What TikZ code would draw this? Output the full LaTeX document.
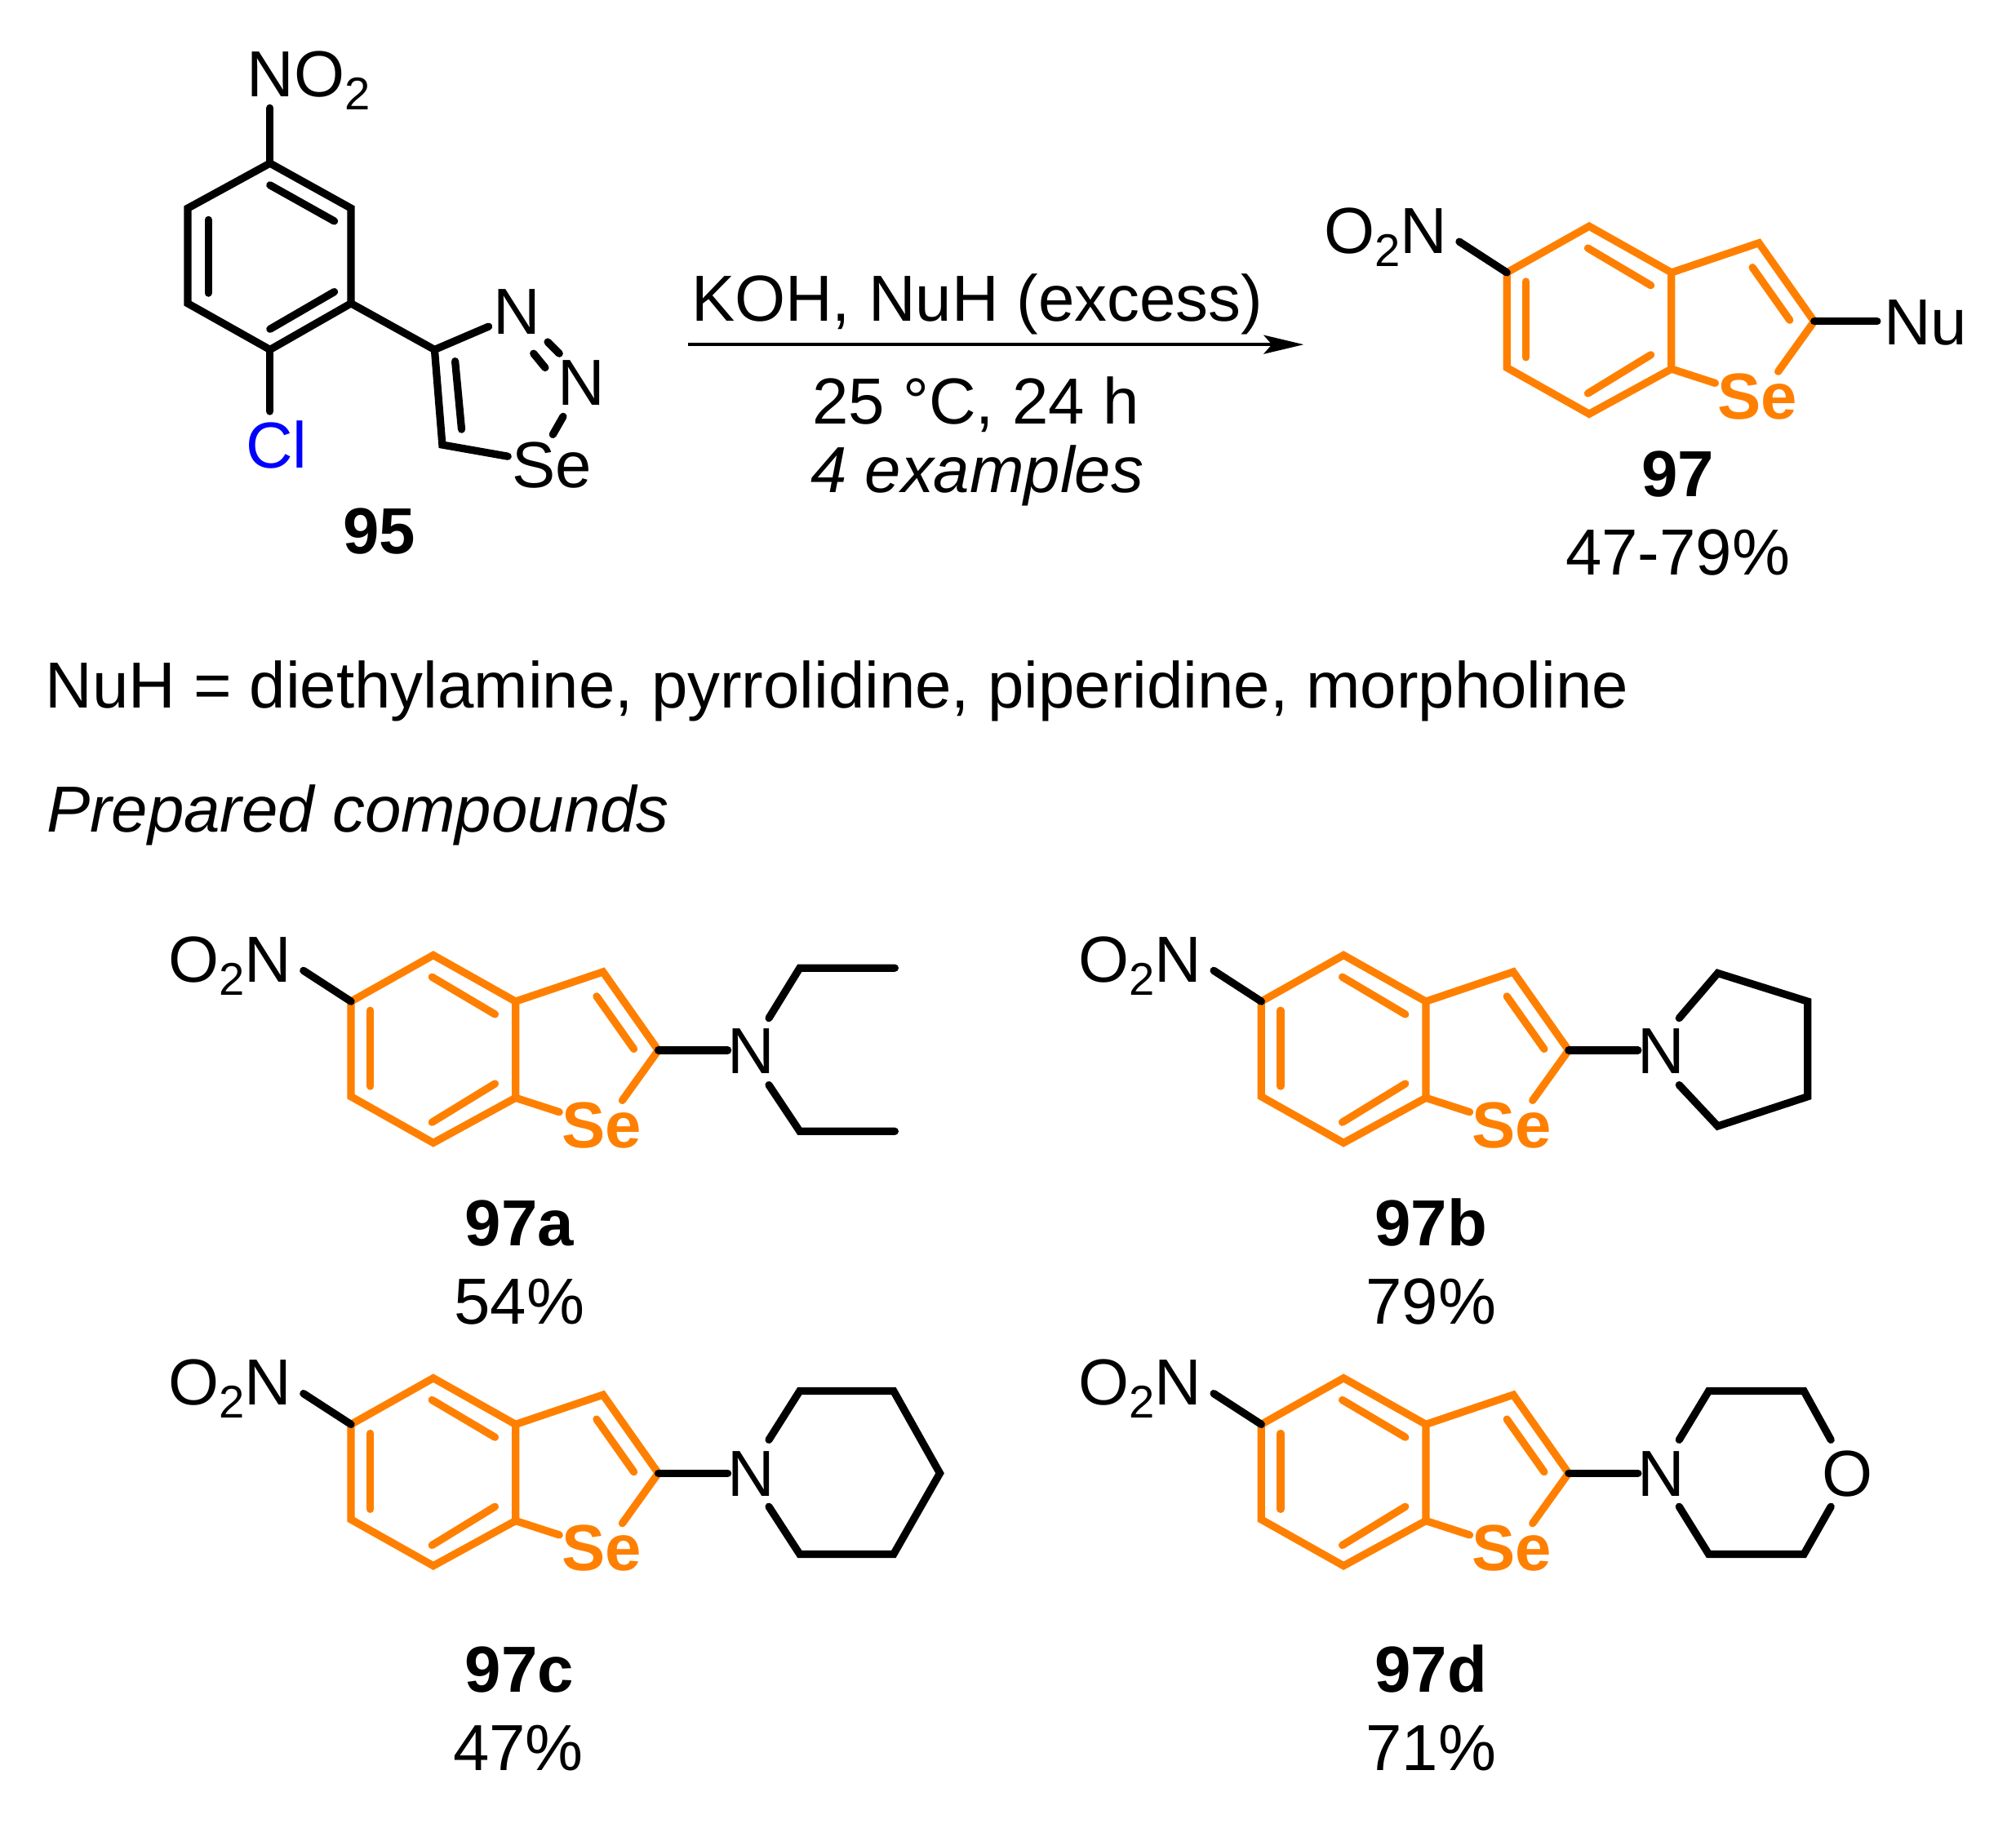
\documentclass[tikz,border=0pt]{standalone}
\usepackage{fontspec}
\setmainfont{Liberation Sans}
\usetikzlibrary{arrows.meta}
\definecolor{seorange}{HTML}{FF8000}
\definecolor{clblue}{HTML}{0000FF}
\newcommand{\fsz}{\fontsize{45.4}{54}\selectfont}
\newcommand{\sbx}[1]{\raisebox{-0.2em}{\fontsize{32}{36}\selectfont #1}}
\tikzset{
  bond/.style={line width=0.185cm,line cap=round,line join=miter,black},
  obond/.style={bond,seorange},
  atom/.style={inner sep=0pt,anchor=base,font=\fsz,black},
  oatom/.style={atom,seorange,font=\fsz\bfseries},
  lbl/.style={inner sep=0pt,anchor=base,font=\fsz,black},
  blbl/.style={lbl,font=\fsz\bfseries},
  itlbl/.style={lbl,font=\fsz\itshape},
  rxn/.style={line width=0.085cm,-{Stealth[length=0.98cm,width=0.46cm,inset=0.2cm]}}
}
% benzoselenophene with NO2: prefix, dx, dy
\newcommand{\scaffold}[3]{%
\begin{scope}[shift={(#2,#3)}]
  \coordinate (#1ul) at (1172,212);
  \coordinate (#1top) at (1236,176);
  \coordinate (#1ju) at (1300,212);
  \coordinate (#1jl) at (1300,287);
  \coordinate (#1bot) at (1236,322);
  \coordinate (#1ll) at (1172,286);
  \coordinate (#1cc) at (1368,189);
  \coordinate (#1cb) at (1411,250);
  \coordinate (#1sa) at (1334,298);
  \coordinate (#1sb) at (1383,289);
  \coordinate (#1ia) at (1235,193);
  \coordinate (#1ib) at (1284,222);
  \coordinate (#1ic) at (1187,219);
  \coordinate (#1id) at (1187,278);
  \coordinate (#1ie) at (1235,306);
  \coordinate (#1if) at (1284,276);
  \coordinate (#1ig) at (1363,208);
  \coordinate (#1ih) at (1392,249);
  \coordinate (#1ne) at (1135,188);
  \node[atom,anchor=base east] (#1no) at (1126,197) {O\sbx{2}N};
  \node[oatom] (#1se) at (1367,326) {Se};
  \draw[obond] (#1ul) -- (#1top) -- (#1ju) -- (#1jl) -- (#1bot) -- (#1ll) -- cycle;
  \draw[obond] (#1ju) -- (#1cc) -- (#1cb) -- (#1sb);
  \draw[obond] (#1jl) -- (#1sa);
  \draw[obond] (#1ia) -- (#1ib);
  \draw[obond] (#1ic) -- (#1id);
  \draw[obond] (#1ie) -- (#1if);
  \draw[obond] (#1ig) -- (#1ih);
  \draw[bond] (#1ne) -- (#1ul);
\end{scope}}
\begin{document}
\begin{tikzpicture}[x=0.031505cm,y=-0.031505cm]
\useasboundingbox (0,0) rectangle (1568,1421.4);
% compound 95
\coordinate (r1) at (210,127);
\coordinate (r2) at (273,162);
\coordinate (r3) at (273,236);
\coordinate (r4) at (210,272);
\coordinate (r5) at (146,236);
\coordinate (r6) at (146,162);
\coordinate (c4) at (338,272);
\coordinate (c5) at (344,346);
\coordinate (no2e) at (210,84);
\coordinate (cle) at (210,320);
\coordinate (n3e) at (380,254);
\coordinate (see) at (395,355);
\coordinate (see2) at (430,338);
\coordinate (n2e) at (438,324);
\coordinate (ia) at (210,144);
\coordinate (ib) at (260,172);
\coordinate (ic) at (162,171);
\coordinate (id) at (162,228);
\coordinate (ie) at (210,256);
\coordinate (if) at (260,227);
\coordinate (ig) at (354,281);
\coordinate (ih) at (359,334);
\coordinate (da) at (415,275);
\coordinate (db) at (424,286);
\coordinate (dc) at (426,266);
\coordinate (dd) at (435,275);
\draw[bond] (r1) -- (r2) -- (r3) -- (r4) -- (r5) -- (r6) -- cycle;
\draw[bond] (ia) -- (ib);
\draw[bond] (ic) -- (id);
\draw[bond] (ie) -- (if);
\draw[bond] (r1) -- (no2e);
\draw[bond] (r4) -- (cle);
\draw[bond] (r3) -- (c4);
\draw[bond] (n3e) -- (c4) -- (c5) -- (see);
\draw[bond] (ig) -- (ih);
\draw[bond] (n2e) -- (see2);
\draw[bond] (da) -- (db);
\draw[bond] (dc) -- (dd);
\node[atom,anchor=base west] (no2) at (192,75) {NO\sbx{2}};
\node[atom,text=clblue] (cl) at (215,364) {Cl};
\node[atom] (n3) at (402,260) {N};
\node[atom] (n2) at (452,315) {N};
\node[atom] (se) at (429,379) {Se};
\node[blbl] (l95) at (295,431) {95};
% reaction
\coordinate (arrs) at (535,268);
\coordinate (arre) at (1014,268);
\draw[rxn] (arrs) -- (arre);
\node[lbl] (kk) at (760,250) {KOH, NuH (excess)};
\node[lbl] (tt) at (759,330) {25 °C, 24 h};
\node[itlbl] (ex) at (760,383) {4 examples};
% product 97
\scaffold{p}{0}{0}
\coordinate (pnu) at (1460,250);
\draw[bond] (pcb) -- (pnu);
\node[atom,anchor=base west] (nu) at (1465,268) {Nu};
\node[blbl] (l97) at (1305,386) {97};
\node[lbl] (y97) at (1305,447) {47-79\%};
% text lines
\node[lbl,anchor=base west] (nuh) at (35,550.5) {NuH = diethylamine, pyrrolidine, piperidine, morpholine};
\node[itlbl,anchor=base west] (prep) at (36,647) {Prepared compounds};
% 97a
\scaffold{a}{-899}{567}
\node[atom] (an) at (584,835) {N};
\coordinate (anb) at (566,817);
\coordinate (au) at (598,792);
\coordinate (au1) at (622,753);
\coordinate (au2) at (696,753);
\coordinate (ad) at (598,844);
\coordinate (ad1) at (622,880);
\coordinate (ad2) at (696,880);
\draw[bond] (acb) -- (anb);
\draw[bond] (au) -- (au1) -- (au2);
\draw[bond] (ad) -- (ad1) -- (ad2);
\node[blbl] (la) at (404,969) {97a};
\node[lbl] (ya) at (404,1030) {54\%};
% 97b
\scaffold{b}{-191}{567}
\node[atom] (bn) at (1292,835) {N};
\coordinate (bnb) at (1274,817);
\coordinate (bu) at (1306,792);
\coordinate (b1) at (1336,757);
\coordinate (b2) at (1406,779);
\coordinate (b3) at (1406,853);
\coordinate (b4) at (1336,876);
\coordinate (bd) at (1306,844);
\draw[bond] (bcb) -- (bnb);
\draw[bond] (bu) -- (b1) -- (b2) -- (b3) -- (b4) -- (bd);
\node[blbl] (lb) at (1113,969) {97b};
\node[lbl] (yb) at (1113,1030) {79\%};
% 97c
\scaffold{c}{-899}{896}
\node[atom] (cn) at (584,1164) {N};
\coordinate (cnb) at (566,1146);
\coordinate (cu) at (598,1120);
\coordinate (c1) at (622,1082);
\coordinate (c2) at (695,1082);
\coordinate (c3) at (731,1146);
\coordinate (c44) at (695,1209);
\coordinate (c55) at (622,1209);
\coordinate (cd) at (598,1172);
\draw[bond] (ccb) -- (cnb);
\draw[bond] (cu) -- (c1) -- (c2) -- (c3) -- (c44) -- (c55) -- (cd);
\node[blbl] (lc) at (404,1316) {97c};
\node[lbl] (yc) at (403,1377) {47\%};
% 97d
\scaffold{d}{-191}{896}
\node[atom] (dn) at (1292,1164) {N};
\node[atom] (do) at (1437,1164) {O};
\coordinate (dnb) at (1274,1146);
\coordinate (du) at (1306,1120);
\coordinate (d1) at (1329,1082);
\coordinate (d2) at (1403,1082);
\coordinate (d3) at (1424,1120);
\coordinate (d4) at (1424,1172);
\coordinate (d5) at (1403,1209);
\coordinate (d6) at (1329,1209);
\coordinate (dl) at (1306,1172);
\draw[bond] (dcb) -- (dnb);
\draw[bond] (du) -- (d1) -- (d2) -- (d3);
\draw[bond] (d4) -- (d5) -- (d6) -- (dl);
\node[blbl] (ld) at (1113,1316) {97d};
\node[lbl] (yd) at (1113,1377) {71\%};
\end{tikzpicture}
\end{document}
